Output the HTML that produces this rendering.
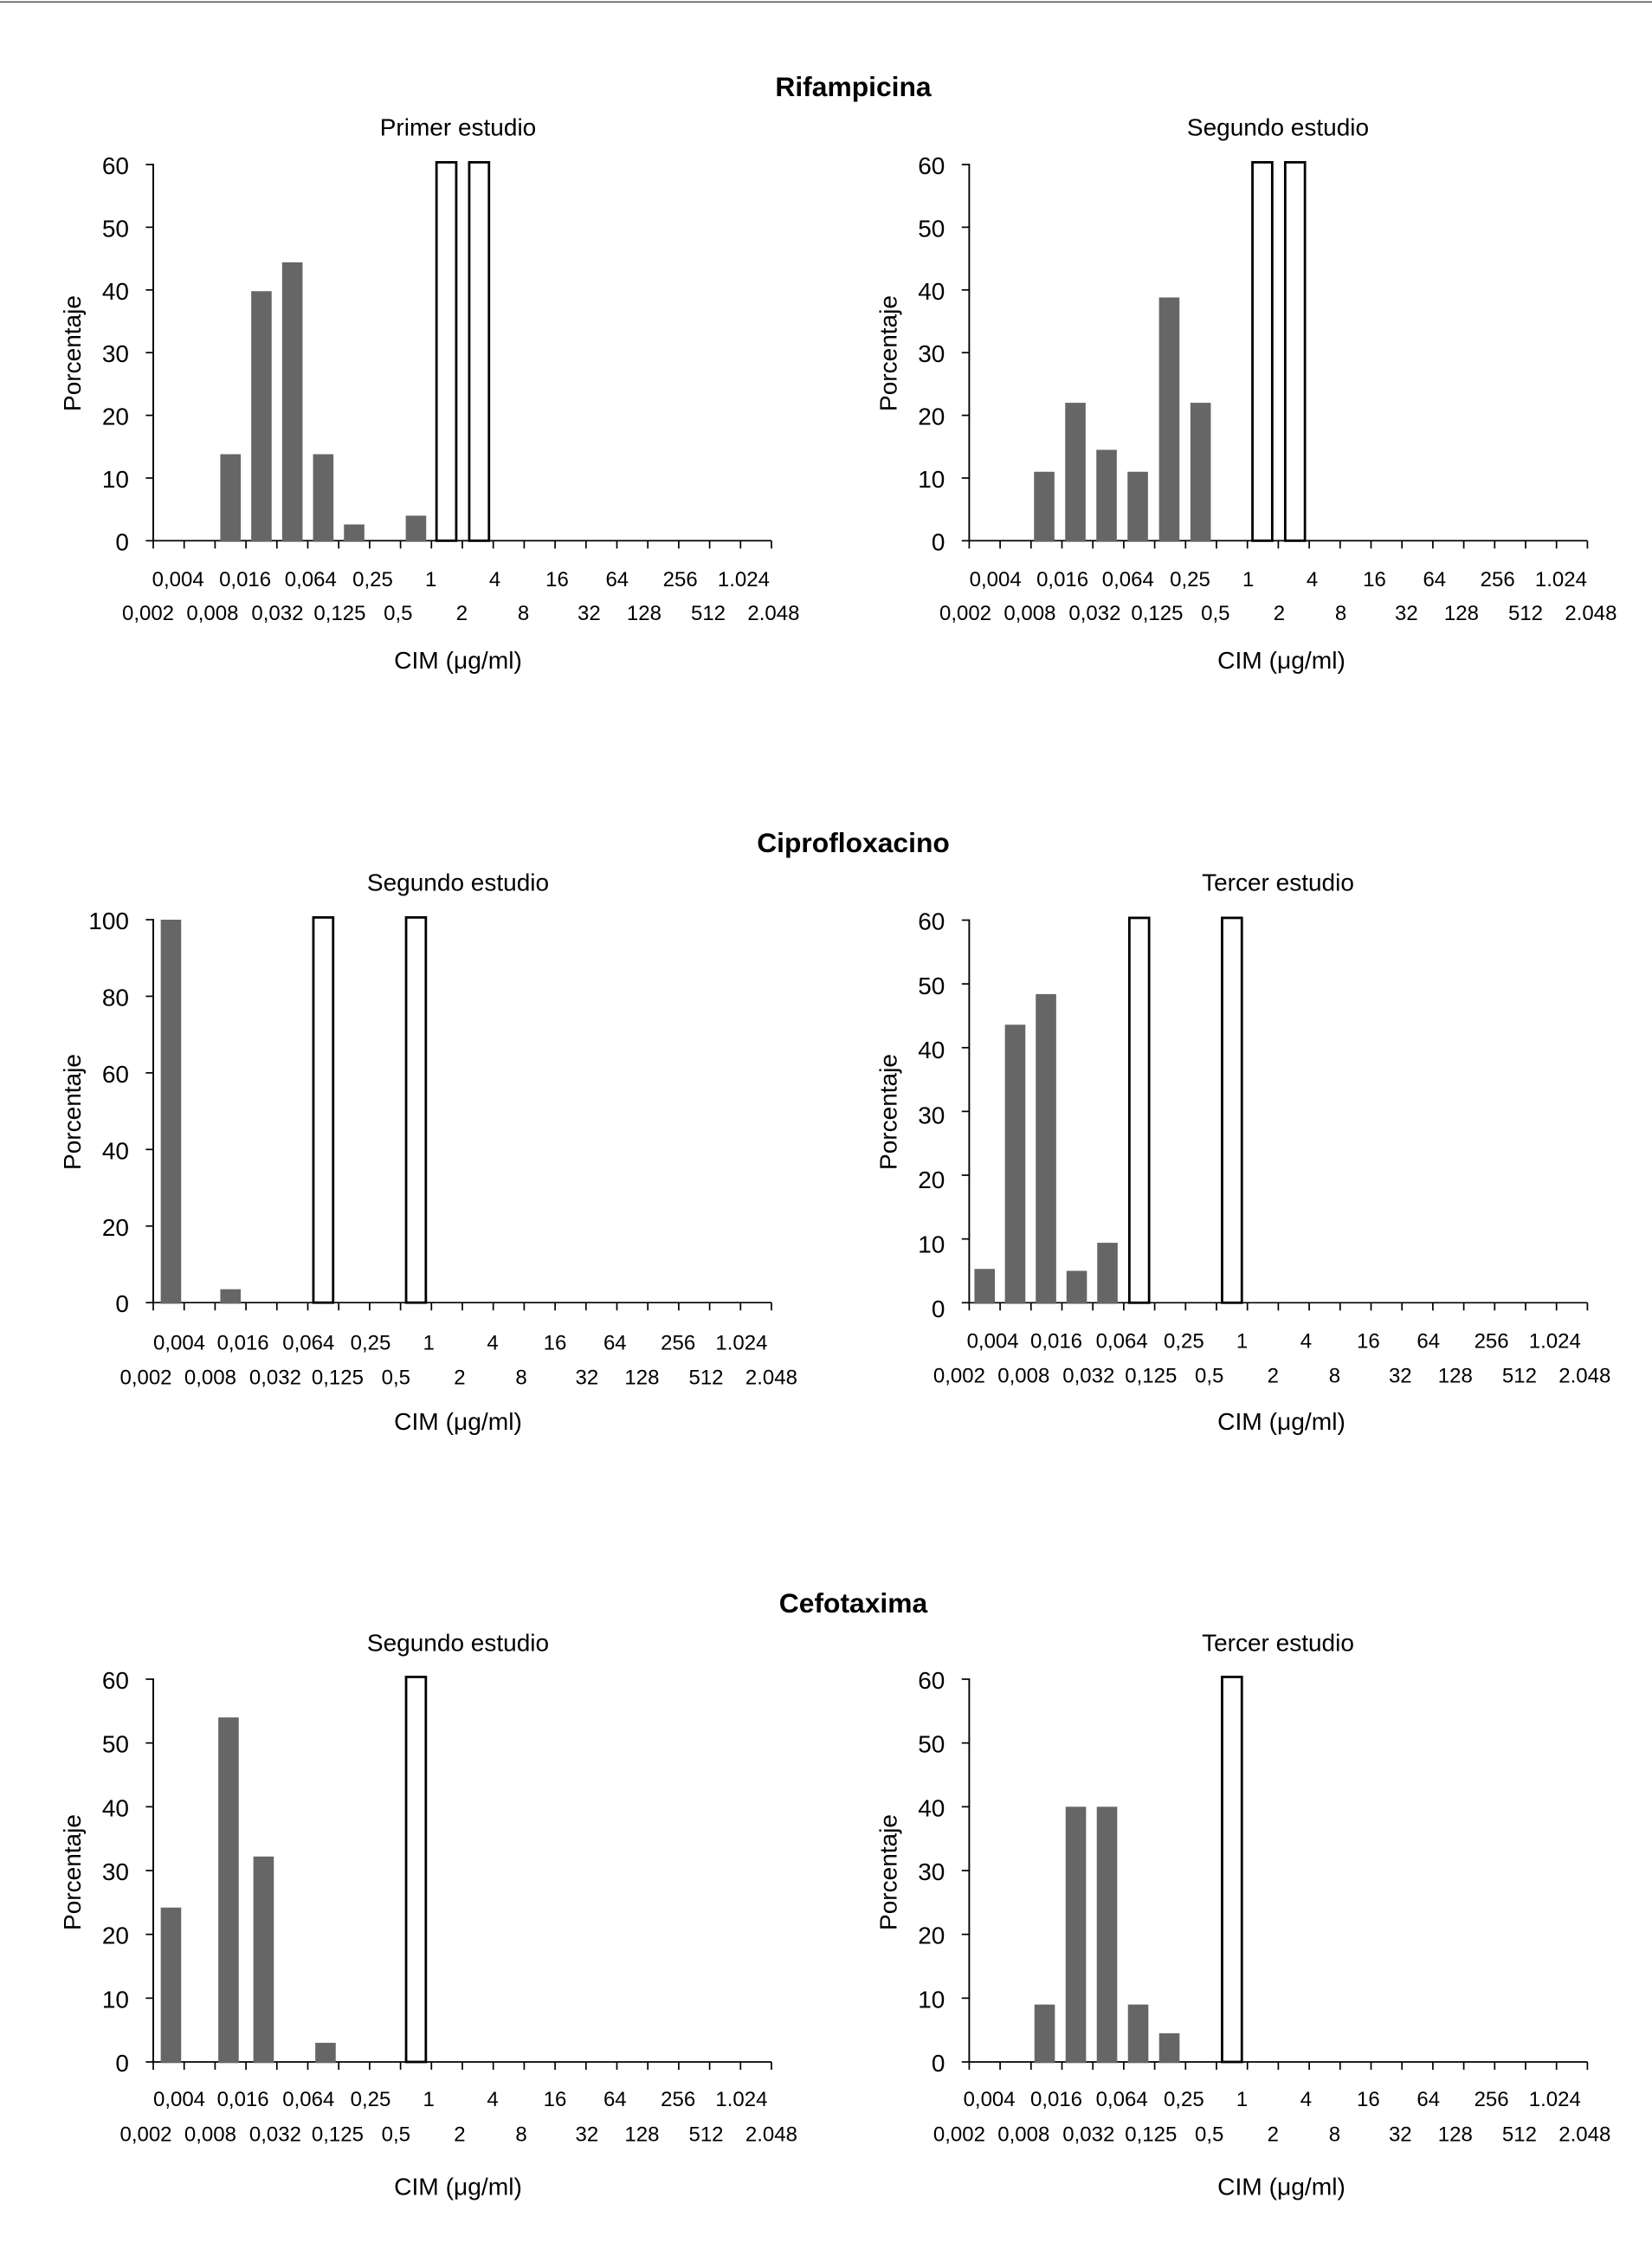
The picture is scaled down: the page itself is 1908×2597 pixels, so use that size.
<!DOCTYPE html>
<html lang="es">
<head>
<meta charset="utf-8">
<title>CIM</title>
<style>
html,body{margin:0;padding:0;background:#fff;width:1908px;height:2597px;overflow:hidden}
svg{display:block;font-family:"Liberation Sans",Arial,sans-serif;fill:#000}
</style>
</head>
<body>
<svg id="figure" xmlns="http://www.w3.org/2000/svg" width="1908" height="2597" viewBox="0 0 1908 2597">
  <rect x="0" y="1.5" width="1908" height="1.5" fill="#555"/>
  <text x="985.5" y="111" text-anchor="middle" font-size="31.8" font-weight="bold">Rifampicina</text>
  <text x="985.5" y="984" text-anchor="middle" font-size="31.8" font-weight="bold">Ciprofloxacino</text>
  <text x="985.5" y="1862" text-anchor="middle" font-size="31.8" font-weight="bold">Cefotaxima</text>
</svg>
<script>
// Concentration tick labels (21 boundaries, 20 bins)
var micLabels = ["0,002","0,004","0,008","0,016","0,032","0,064","0,125","0,25","0,5","1","2","4","8","16","32","64","128","256","512","1.024","2.048"];
var ticks60 = [0,10,20,30,40,50,60];
var ticks100 = [0,20,40,60,80,100];

// Percent of isolates per bin (grey bars)
var rifPrimer      = [0,0,13.8,39.8,44.4,13.8,2.6,0,4,0,0,0,0,0,0,0,0,0,0,0];
var rifSegundo     = [0,0,11,22,14.5,11,38.8,22,0,0,0,0,0,0,0,0,0,0,0,0];
var cipSegundo     = [100,0,3.5,0,0,0,0,0,0,0,0,0,0,0,0,0,0,0,0,0];
var cipTercer      = [5.3,43.6,48.4,5,9.4,0,0,0,0,0,0,0,0,0,0,0,0,0,0,0];
var cefSegundo     = [24.2,0,54,32.2,0,3,0,0,0,0,0,0,0,0,0,0,0,0,0,0];
var cefTercer      = [0,0,9,40,40,9,4.5,0,0,0,0,0,0,0,0,0,0,0,0,0];

// Outlined bars (full axis height)
var rifPrimerOutlined  = [0,0,0,0,0,0,0,0,0,60,60,0,0,0,0,0,0,0,0,0];
var rifSegundoOutlined = [0,0,0,0,0,0,0,0,0,60,60,0,0,0,0,0,0,0,0,0];
var cipSegundoOutlined = [0,0,0,0,0,100,0,0,100,0,0,0,0,0,0,0,0,0,0,0];
var cipTercerOutlined  = [0,0,0,0,0,60,0,0,60,0,0,0,0,0,0,0,0,0,0,0];
var cefSegundoOutlined = [0,0,0,0,0,0,0,0,60,0,0,0,0,0,0,0,0,0,0,0];
var cefTercerOutlined  = [0,0,0,0,0,0,0,0,60,0,0,0,0,0,0,0,0,0,0,0];

// Layout
var NS = "http://www.w3.org/2000/svg";
var svg = document.getElementById("figure");
var labelShift = [-6,-7,-3,-1,0.6,3.3,1.2,3.6,-2.8,-0.6,-0.6,1.8,-0.9,2.4,3.6,0.3,-4.3,1.8,-1.6,3.6,2.4];
var panels = [
  {key:"rif-primer", title:"Primer estudio", left:177, top:190, bottom:624.4, yMax:60, yTicks:ticks60, bars:rifPrimer, outlined:rifPrimerOutlined, dx:0, first:0, row1:52.4, row2:91.7, titleY:146.5, cimY:762, cimX:529, titleX:529, labelY:408, shift:{}, boxShift:{9:-0.6,10:1.5}, labelDrop:{}},
  {key:"rif-segundo", title:"Segundo estudio", left:1119.4, top:190, bottom:624.4, yMax:60, yTicks:ticks60, bars:rifSegundo, outlined:rifSegundoOutlined, dx:1.6, first:0, row1:52.4, row2:91.7, titleY:146.5, cimY:762, cimX:1480, titleX:1476, labelY:408, shift:{2:-2.6,3:-2.3,4:-2,5:-1.7,6:-1,7:-0.5}, boxShift:{9:-0.6,10:1.5}, labelDrop:{}},
  {key:"cip-segundo", title:"Segundo estudio", left:177, top:1062, bottom:1504.2, yMax:100, yTicks:ticks100, bars:cipSegundo, outlined:cipSegundoOutlined, dx:-2.5, first:3.8, row1:54.2, row2:94.2, titleY:1018.5, cimY:1641, cimX:529, titleX:529, labelY:1284, shift:{0:2.6}, boxShift:{}, labelDrop:{}},
  {key:"cip-tercer", title:"Tercer estudio", left:1119.4, top:1062.5, bottom:1504.3, yMax:60, yTicks:ticks60, bars:cipTercer, outlined:cipTercerOutlined, dx:-5.5, first:4, row1:52.4, row2:92.4, titleY:1018.5, cimY:1641, cimX:1480, titleX:1476, labelY:1284, shift:{1:-0.5,2:-0.6,3:-0.8,4:-1}, boxShift:{}, labelDrop:{0:5.7,10:5,20:4,30:3,40:1,50:1,60:0}},
  {key:"cef-segundo", title:"Segundo estudio", left:177, top:1939, bottom:2381, yMax:60, yTicks:ticks60, bars:cefSegundo, outlined:cefSegundoOutlined, dx:-2.5, first:3.8, row1:51, row2:91.3, titleY:1896.5, cimY:2524.5, cimX:529, titleX:529, labelY:2162, shift:{0:2.6,2:-2.3,3:2.5,5:2.6}, boxShift:{}, labelDrop:{}},
  {key:"cef-tercer", title:"Tercer estudio", left:1119.4, top:1939, bottom:2381, yMax:60, yTicks:ticks60, bars:cefTercer, outlined:cefTercerOutlined, dx:-5.5, first:0, row1:51, row2:91.3, titleY:1896.5, cimY:2524.5, cimX:1480, titleX:1476, labelY:2162, shift:{2:-2.1,3:-1.8,4:-1.5,5:-1.2,6:-0.9}, boxShift:{}, labelDrop:{}}
];
var PLOT_W = 714;

function make(tag, parent, attrs, text) {
  var el = document.createElementNS(NS, tag);
  for (var k in attrs) el.setAttribute(k, attrs[k]);
  if (text !== undefined) el.textContent = text;
  parent.appendChild(el);
  return el;
}

panels.forEach(function (p) {
  var bins = p.bars.length;
  var step = PLOT_W / bins;
  var xEdge = function (i) { return p.left + i * step; };
  var yScale = function (v) { return p.bottom - (v / p.yMax) * (p.bottom - p.top); };

  var g = make("g", svg, {});
  
  

  var title = make("text", g, {x:p.titleX, y:p.titleY + 10, "text-anchor":"middle", "font-size":28}, p.title);
  
  

  var yAxis = make("line", g, {x1:p.left, x2:p.left, y1:p.top - 0.9, y2:p.bottom + 0.9, stroke:"#000", "stroke-width":1.9});
  
  

  var xAxis = make("line", g, {x1:p.left, x2:p.left + PLOT_W, y1:p.bottom, y2:p.bottom, stroke:"#000", "stroke-width":1.7});
  
  

  p.yTicks.forEach(function (t) {
    var tick = make("line", g, {x1:p.left - 8.6, x2:p.left, y1:yScale(t), y2:yScale(t), stroke:"#000", "stroke-width":1.7});
    
    
    var lbl = make("text", g, {x:p.left - 28, y:yScale(t) + 11 + (p.labelDrop[t] || 0), "text-anchor":"end", "font-size":28}, t);
    
    
  });

  micLabels.forEach(function (m, i) {
    var tick = make("line", g, {x1:xEdge(i), x2:xEdge(i), y1:p.bottom, y2:p.bottom + 9, stroke:"#000", "stroke-width":1.7});
    
    
    var rowY = p.bottom + (i % 2 === 0 ? p.row2 : p.row1);
    var lbl = make("text", g, {x:xEdge(i) + labelShift[i] + p.dx + (i === 1 ? p.first : 0), y:rowY, "text-anchor":"middle", "font-size":24}, m);
    
    
  });

  p.bars.forEach(function (v, i) {
    if (v <= 0) return;
    var bar = make("rect", g, {x:xEdge(i) + step / 2 - 11.8 + (p.shift[i] || 0), y:yScale(v), width:23.6, height:p.bottom - yScale(v) + 1.3, fill:"#666"});
    
    
  });

  p.outlined.forEach(function (v, i) {
    if (v <= 0) return;
    var box = make("rect", g, {x:xEdge(i) + step / 2 - 11.4 + (p.boxShift[i] || 0), y:yScale(v) - 2.6, width:22.8, height:p.bottom - yScale(v) + 2.6, fill:"#fff", stroke:"#000", "stroke-width":2.8});
    
    
  });

  var yTitleX = p.left - 84;
  var yTitle = make("text", g, {x:yTitleX, y:p.labelY, "text-anchor":"middle", "font-size":28, transform:"rotate(-90 " + yTitleX + " " + p.labelY + ")"}, "Porcentaje");
  
  

  var xTitle = make("text", g, {x:p.cimX, y:p.cimY + 10, "text-anchor":"middle", "font-size":28.2}, "CIM (\u03BCg/ml)");
  
  
});
</script>
</body>
</html>
